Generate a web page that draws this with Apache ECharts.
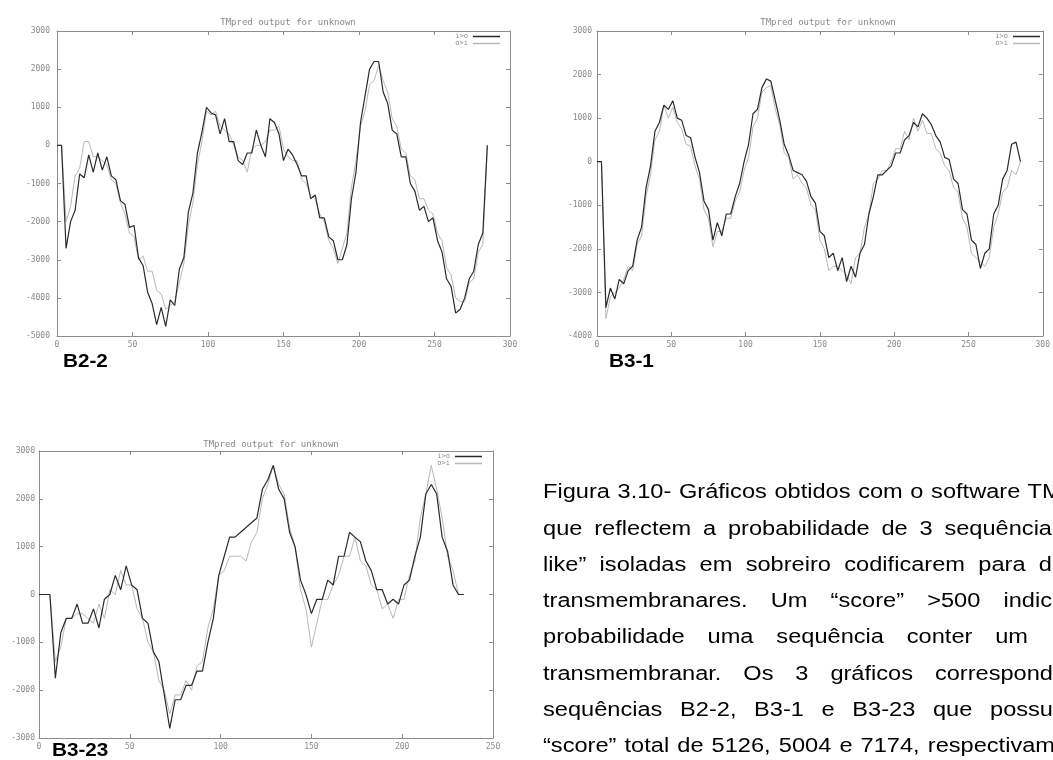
<!DOCTYPE html>
<html><head><meta charset="utf-8">
<script src="https://cdn.jsdelivr.net/npm/echarts@6/dist/echarts.min.js"></script>
<style>
html,body{margin:0;padding:0;background:#fff;overflow:hidden;width:1053px;height:760px;}
#chart{position:absolute;left:0;top:0;width:1053px;height:760px;}
.cap{position:absolute;left:543px;white-space:nowrap;font-family:"Liberation Sans",Arial,sans-serif;font-size:20px;color:#000;transform-origin:0 50%;line-height:22px;}
</style></head><body>
<div id="chart"></div>
<div id="caption"></div>
<script>
// ---- data ----
const STEP = 3; // residue spacing of sampled points
const seriesNames = ['i>o', 'o>i'];
const titleText = 'TMpred output for unknown';
const panelLabels = ['B2-2', 'B3-1', 'B3-23'];

const b22_io = [0, 0, -2700, -2000, -1700, -750, -850, -250, -700, -200,
  -650, -300, -800, -900, -1450, -1550, -2150, -2100, -2950, -3150,
  -3850, -4150, -4700, -4250, -4750, -4050, -4200, -3250, -2950, -1750,
  -1250, -200, 350, 1000, 850, 800, 300, 700, 100, 100,
  -400, -500, -200, -200, 400, 0, -300, 700, 600, 300,
  -400, -100, -250, -500, -800, -800, -1400, -1300, -1900, -1900,
  -2400, -2500, -3000, -3000, -2600, -1400, -700, 600, 1300, 2000,
  2200, 2200, 1400, 1100, 400, 300, -300, -300, -1000, -1200,
  -1700, -1600, -2000, -1900, -2500, -2800, -3500, -3700, -4400, -4300,
  -4000, -3500, -3300, -2600, -2300, 0];
const b22_oi = [0, 0, -2000, -1600, -800, -600, 100, 100, -300, -300,
  -400, -500, -900, -1000, -1500, -1800, -2300, -2400, -3000, -2900,
  -3300, -3300, -3800, -3900, -4300, -4200, -4100, -3600, -3100, -2100,
  -1500, -500, 100, 900, 800, 900, 500, 400, 300, 0,
  -300, -400, -700, -100, 0, 0, 100, 400, 400, 500,
  -100, -300, -400, -400, -900, -1000, -1300, -1400, -1800, -2000,
  -2500, -2700, -3100, -2700, -2300, -1100, -400, 500, 900, 1600,
  1700, 2100, 1700, 1400, 700, 500, -100, -200, -800, -900,
  -1400, -1400, -1700, -1800, -2300, -2500, -3200, -3400, -4000, -4100,
  -4100, -3600, -3500, -2800, -2600, 0];

const b31_io = [0, 0, -3350, -2900, -3150, -2700, -2800, -2500, -2400, -1800,
  -1500, -600, -100, 700, 900, 1300, 1200, 1400, 1000, 950,
  600, 550, 100, -250, -900, -1100, -1800, -1400, -1700, -1200,
  -1200, -800, -500, 0, 400, 1100, 1200, 1700, 1900, 1850,
  1400, 950, 400, 150, -200, -250, -300, -450, -800, -950,
  -1600, -1700, -2200, -2100, -2500, -2200, -2750, -2400, -2650, -2100,
  -1900, -1200, -800, -300, -300, -200, -100, 200, 200, 500,
  600, 900, 800, 1100, 1000, 850, 600, 450, 100, 50,
  -400, -500, -1100, -1200, -1800, -1900, -2450, -2100, -2000, -1200,
  -1000, -400, -200, 400, 450, 0];
const b31_oi = [0, 0, -3600, -3100, -3000, -2900, -2700, -2400, -2500, -1900,
  -1700, -800, -300, 500, 700, 1300, 1000, 1250, 900, 750,
  400, 350, -100, -400, -1100, -1300, -1950, -1600, -1600, -1300,
  -1300, -900, -700, -200, 100, 800, 1000, 1600, 1700, 1750,
  1200, 850, 200, 100, -400, -300, -500, -600, -1000, -1100,
  -1800, -2000, -2500, -2400, -2400, -2500, -2600, -2800, -2200, -2100,
  -1500, -1200, -500, -400, -200, -200, 0, 300, 300, 700,
  500, 1000, 700, 950, 650, 650, 300, 200, -100, -200,
  -600, -700, -1300, -1500, -2100, -2200, -2300, -2400, -2200, -1500,
  -1200, -700, -600, -200, -300, 0];

const b323_io = [0, 0, 0, -1750, -800, -500, -500, -200, -600, -600,
  -300, -700, -100, 0, 400, 100, 600, 200, 100, -500,
  -600, -1200, -1400, -2100, -2800, -2200, -2200, -1900, -1900, -1600,
  -1600, -1000, -500, 400, 800, 1200, 1200, 1300, 1400, 1500,
  1600, 2200, 2400, 2700, 2200, 2000, 1300, 1000, 300, 0,
  -400, -100, -100, 300, 200, 800, 800, 1300, 1200, 1100,
  700, 500, 100, 100, -200, -100, -200, 200, 300, 800,
  1200, 2100, 2300, 2100, 1200, 900, 200, 0, 0];
const b323_oi = [0, 0, 0, -1400, -1100, -500, -500, -400, -400, -500,
  -600, -200, -500, 100, 0, 500, 200, 200, -300, -500,
  -1000, -1200, -1800, -2000, -2500, -2100, -2100, -1800, -2000, -1500,
  -1400, -700, -300, 400, 500, 800, 800, 800, 700, 1100,
  1300, 2000, 2300, 2700, 2300, 2100, 1400, 1000, 100, -300,
  -1100, -600, -100, -100, 200, 400, 800, 800, 1200, 700,
  600, 200, 100, -300, -200, -500, -100, -100, 400, 700,
  1600, 2100, 2700, 2200, 1600, 800, 500, 0, 0];

const xMaxes = [300, 300, 250];
const yRanges = [[-5000, 3000], [-4000, 3000], [-3000, 3000]];
const xTickInterval = 50;
const yTickInterval = 1000;

const captionLines = [
  'Figura 3.10- Gráficos obtidos com o software TM',
  'que reflectem a probabilidade de 3 sequência',
  'like\u201d isoladas em sobreiro codificarem para d',
  'transmembranares. Um \u201cscore\u201d >500 indic',
  'probabilidade uma sequência conter um',
  'transmembranar. Os 3 gráficos correspond',
  'sequências B2-2, B3-1 e B3-23 que possu',
  '\u201cscore\u201d total de 5126, 5004 e 7174, respectivam'
];

// ---- layout / style ----
const grids = [
  {left: 57, top: 31, width: 453, height: 305},
  {left: 597, top: 31, width: 453, height: 305},
  {left: 39, top: 451, width: 454, height: 287}
];
const yLabelMargins = [7, 5, 4];
const legendPos = [{right: 553, top: 33}, {right: 13, top: 33}, {right: 571, top: 453}];
const titleCenters = [[283, 13], [823, 13], [266, 435]];
const labelPos = [[63, 362], [609, 362], [52, 751]];
const DARK = '#2b2b2b', LIGHT = '#b8b8b8', AXIS = '#8c8c8c', TXT = '#8a8a8a';
const MONO = '"DejaVu Sans Mono", monospace';

const pairs = arr => arr.map((v, i) => [i * STEP, v]);
const panels = [[b22_io, b22_oi], [b31_io, b31_oi], [b323_io, b323_oi]];

const xAxis = [], yAxis = [], series = [], title = [], legend = [], graphic = [];
grids.forEach((g, i) => {
  const common = {gridIndex: i, type: 'value', splitLine: {show: false},
    axisLine: {show: true, onZero: false, lineStyle: {color: AXIS, width: 1}},
    axisTick: {show: true, inside: true, length: 4, lineStyle: {color: AXIS}}};
  xAxis.push(Object.assign({}, common, {position: 'bottom', min: 0, max: xMaxes[i], interval: xTickInterval,
    axisLabel: {show: true, fontSize: 8, color: TXT, fontFamily: MONO, margin: 5, formatter: v => String(v)}}));
  xAxis.push(Object.assign({}, common, {position: 'top', min: 0, max: xMaxes[i], interval: xTickInterval,
    axisLabel: {show: false}}));
  yAxis.push(Object.assign({}, common, {position: 'left', min: yRanges[i][0], max: yRanges[i][1], interval: yTickInterval,
    axisLabel: {show: true, fontSize: 8, color: TXT, fontFamily: MONO, margin: yLabelMargins[i], formatter: v => String(v)}}));
  yAxis.push(Object.assign({}, common, {position: 'right', min: yRanges[i][0], max: yRanges[i][1], interval: yTickInterval,
    axisLabel: {show: false}}));
  const [io, oi] = panels[i];
  series.push({type: 'line', name: seriesNames[1], xAxisIndex: 2 * i, yAxisIndex: 2 * i, data: pairs(oi),
    showSymbol: false, symbol: 'none', color: LIGHT, lineStyle: {color: LIGHT, width: 1}, animation: false, z: 2});
  series.push({type: 'line', name: seriesNames[0], xAxisIndex: 2 * i, yAxisIndex: 2 * i, data: pairs(io),
    showSymbol: false, symbol: 'none', color: DARK, lineStyle: {color: DARK, width: 1.2}, animation: false, z: 3});
  title.push({text: titleText, left: titleCenters[i][0], top: titleCenters[i][1], textAlign: 'center',
    textStyle: {fontSize: 9, fontWeight: 'normal', color: TXT, fontFamily: MONO}});
  legend.push(Object.assign({orient: 'vertical', align: 'right', itemGap: 0, itemWidth: 27, itemHeight: 1.5,
    icon: 'rect', padding: 0, selectedMode: false, data: seriesNames,
    textStyle: {fontSize: 7, color: TXT, fontFamily: MONO, padding: [0, 0, 0, 0]}}, legendPos[i]));
  graphic.push({type: 'text', x: labelPos[i][0], y: labelPos[i][1], scaleX: 1.15,
    style: {text: panelLabels[i], fontSize: 18, fontWeight: 'bold', fontFamily: '"Liberation Sans", Arial',
      fill: '#000', verticalAlign: 'middle', align: 'left'}});
});

const chart = echarts.init(document.getElementById('chart'), null, {renderer: 'canvas'});
chart.setOption({backgroundColor: '#fff', animation: false, grid: grids, xAxis, yAxis, series, title, legend, graphic});

// ---- caption (justified lines) ----
const capTops = [491, 528, 564, 600, 636, 673, 709, 745];
const capTargets = [519, 509, 509, 509, 485, 510, 510, 512];
const SX = 1.18;
const ctx = document.createElement('canvas').getContext('2d');
ctx.font = '20px "Liberation Sans"';
const capDiv = document.getElementById('caption');
captionLines.forEach((t, i) => {
  const d = document.createElement('div');
  d.className = 'cap';
  d.textContent = t;
  const nat = ctx.measureText(t).width;
  const gaps = (t.match(/ /g) || []).length;
  const ws = gaps ? (capTargets[i] / SX - nat) / gaps : 0;
  d.style.wordSpacing = ws + 'px';
  d.style.top = (capTops[i] - 11) + 'px';
  d.style.transform = 'scaleX(' + SX + ')';
  capDiv.appendChild(d);
});
</script></body></html>
